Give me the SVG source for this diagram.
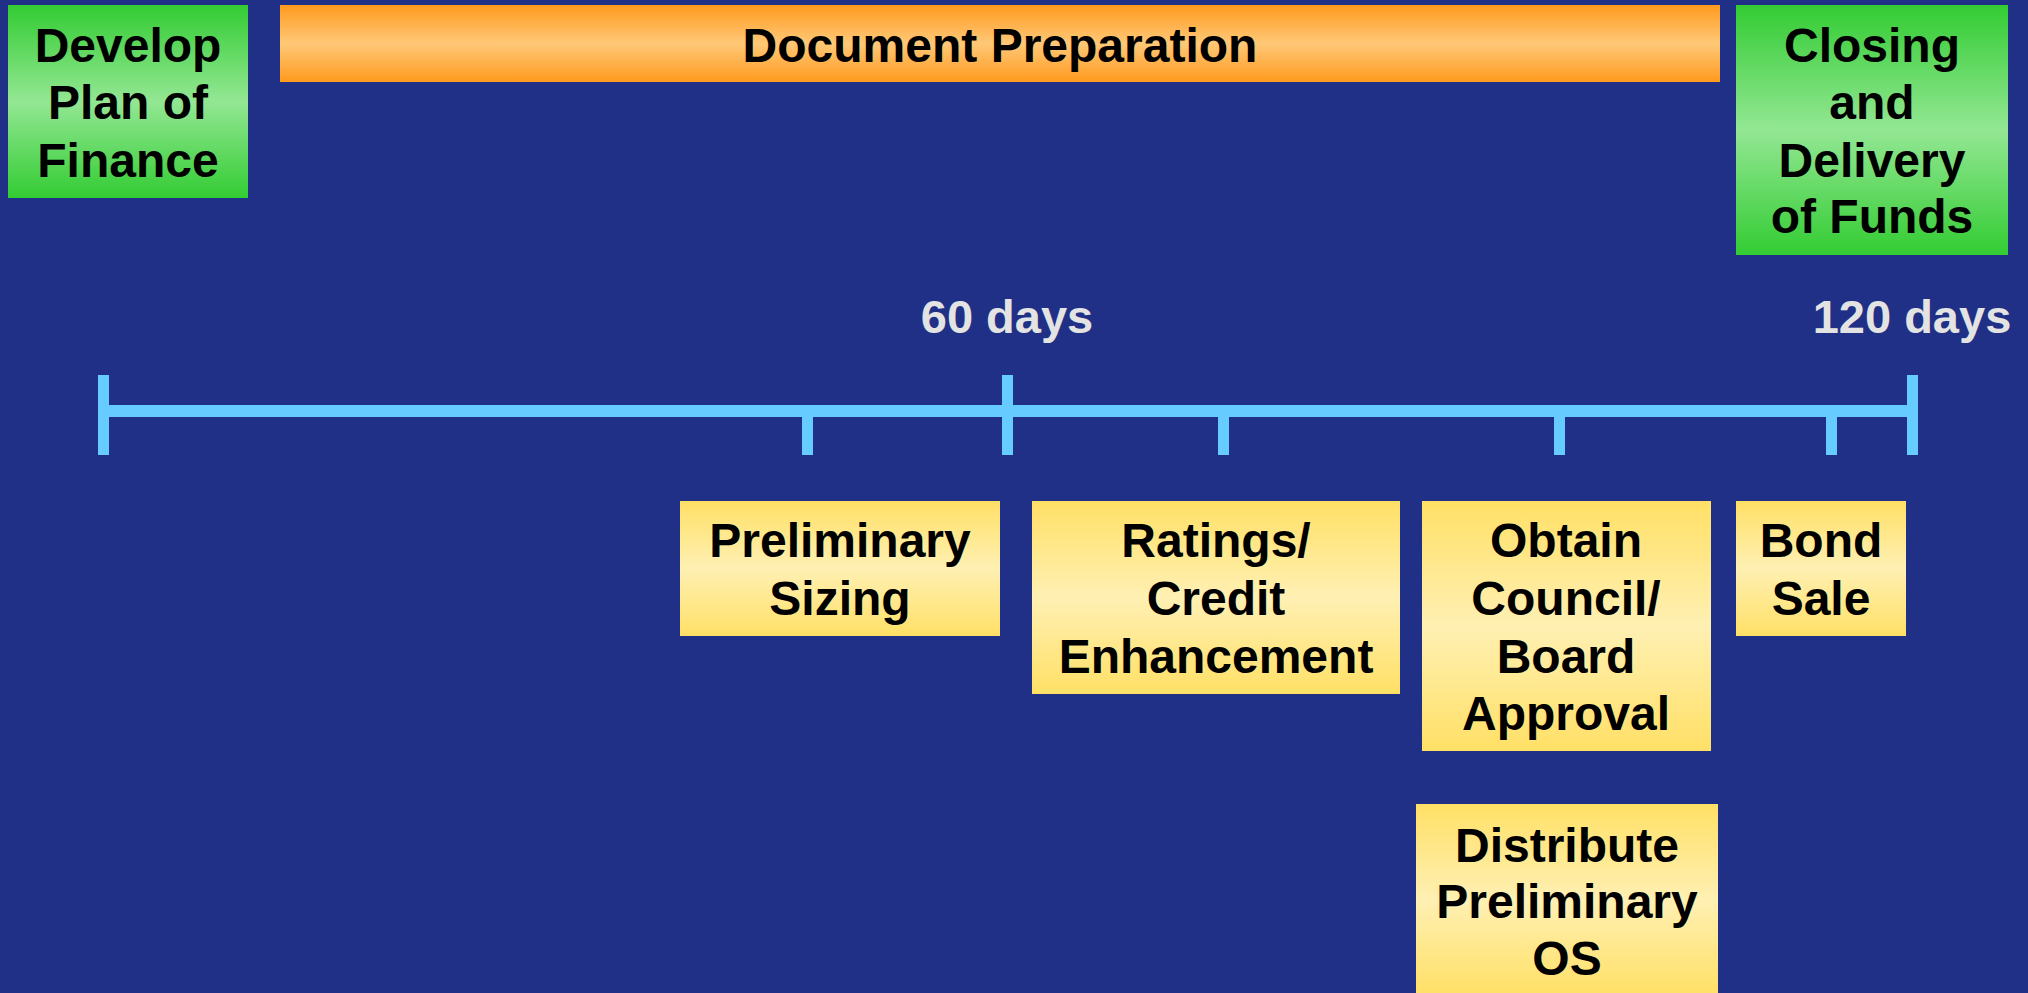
<svg xmlns="http://www.w3.org/2000/svg" width="2028" height="993" viewBox="0 0 2028 993">
<defs>
<linearGradient id="gGreen" x1="0" y1="0" x2="0" y2="1">
<stop offset="0" stop-color="#33cc33"/><stop offset="0.5" stop-color="#93e793"/><stop offset="1" stop-color="#33cc33"/>
</linearGradient>
<linearGradient id="gOrange" x1="0" y1="0" x2="0" y2="1">
<stop offset="0" stop-color="#ff9a1e"/><stop offset="0.5" stop-color="#ffc877"/><stop offset="1" stop-color="#ff9a1e"/>
</linearGradient>
<linearGradient id="gYellow" x1="0" y1="0" x2="0" y2="1">
<stop offset="0" stop-color="#ffe066"/><stop offset="0.5" stop-color="#fff0b3"/><stop offset="1" stop-color="#ffe066"/>
</linearGradient>
<style>
.t{font-family:"Liberation Sans",Arial,sans-serif;font-weight:bold;font-size:48px;fill:#000;text-anchor:middle}
.d{font-family:"Liberation Sans",Arial,sans-serif;font-weight:bold;font-size:47px;fill:#e3e3e3;text-anchor:middle}
.tl{fill:#66ccff}
</style>
</defs>
<rect width="2028" height="993" fill="#1f3086"/>
<g id="develop">
<rect x="8" y="5" width="240" height="193" fill="url(#gGreen)"/>
<text class="t" x="128" y="62">Develop</text>
<text class="t" x="128" y="119">Plan of</text>
<text class="t" x="128" y="177">Finance</text>
</g>
<g id="docprep">
<rect x="280" y="5" width="1440" height="77" fill="url(#gOrange)"/>
<text class="t" x="1000" y="62">Document Preparation</text>
</g>
<g id="closing">
<rect x="1736" y="5" width="272" height="250" fill="url(#gGreen)"/>
<text class="t" x="1872" y="62">Closing</text>
<text class="t" x="1872" y="119">and</text>
<text class="t" x="1872" y="177">Delivery</text>
<text class="t" x="1872" y="233">of Funds</text>
</g>
<g id="labels">
<text class="d" x="1007" y="333">60 days</text>
<text class="d" x="1912" y="333">120 days</text>
</g>
<g id="timeline">
<rect class="tl" x="98" y="405" width="1820" height="12"/>
<rect class="tl" x="98" y="375" width="11" height="80"/>
<rect class="tl" x="1002" y="375" width="11" height="80"/>
<rect class="tl" x="1907" y="375" width="11" height="80"/>
<rect class="tl" x="802" y="405" width="11" height="50"/>
<rect class="tl" x="1218" y="405" width="11" height="50"/>
<rect class="tl" x="1554" y="405" width="11" height="50"/>
<rect class="tl" x="1826" y="405" width="11" height="50"/>
</g>
<g id="prelim-sizing">
<rect x="680" y="501" width="320" height="135" fill="url(#gYellow)"/>
<text class="t" x="840" y="557">Preliminary</text>
<text class="t" x="840" y="615">Sizing</text>
</g>
<g id="ratings">
<rect x="1032" y="501" width="368" height="193" fill="url(#gYellow)"/>
<text class="t" x="1216" y="557">Ratings/</text>
<text class="t" x="1216" y="615">Credit</text>
<text class="t" x="1216" y="673">Enhancement</text>
</g>
<g id="approval">
<rect x="1422" y="501" width="289" height="250" fill="url(#gYellow)"/>
<text class="t" x="1566" y="557">Obtain</text>
<text class="t" x="1566" y="615">Council/</text>
<text class="t" x="1566" y="673">Board</text>
<text class="t" x="1566" y="730">Approval</text>
</g>
<g id="bond-sale">
<rect x="1736" y="501" width="170" height="135" fill="url(#gYellow)"/>
<text class="t" x="1821" y="557">Bond</text>
<text class="t" x="1821" y="615">Sale</text>
</g>
<g id="distribute">
<rect x="1416" y="804" width="302" height="191" fill="url(#gYellow)"/>
<text class="t" x="1567" y="862">Distribute</text>
<text class="t" x="1567" y="918">Preliminary</text>
<text class="t" x="1567" y="975">OS</text>
</g>
</svg>
